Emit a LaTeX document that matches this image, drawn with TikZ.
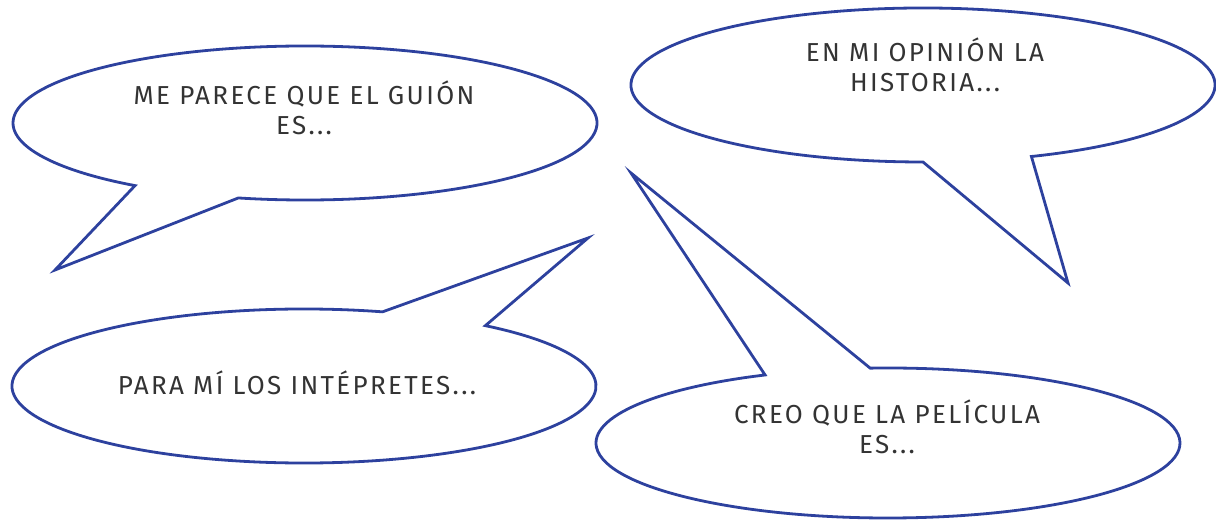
\documentclass[tikz,border=0pt]{standalone}
\usepackage{fontspec}
\setmainfont{Fira Sans}
\usetikzlibrary{calc}
\begin{document}
\begin{tikzpicture}[x=1pt,y=1pt]
 		\definecolor{bubbleblue}{RGB}{45,65,158}
 		\tikzset{bubble/.style={draw=bubbleblue,line width=2.8pt,fill=white,line join=miter},
 		  saying/.style={align=center,text=black!80,inner sep=0pt,
 		    font=\fontsize{26}{30}\selectfont\addfontfeature{LetterSpace=9}}}
 		\useasboundingbox (0,0) rectangle (1216,520);
 		
 		% Define radii of the bubbles
 		\def\rx{292}      %x radius.
 		\def\ry{77}       %y radius.
 		
 		% Define centres of the bubbles.
 		\coordinate (guion) at (305,397);
 		\coordinate (historia) at (923,435);
 		\coordinate (interpretes) at (304,134);
 		\coordinate (pelicula) at (888,77);
 		% Define tips of the tails.
 		\coordinate (tipguion) at (55,250);
 		\coordinate (tiphistoria) at (1068,237);
 		\coordinate (tipinterpretes) at (588,282);
 		\coordinate (tippelicula) at (631,347);
 		
 		% GUION
 		\draw[bubble] (tipguion) -- ($(guion)+(256.8:{\rx} and {\ry})$)
 		  arc[start angle=256.8,end angle=594.4,x radius=\rx,y radius=\ry] -- cycle;
 		% HISTORIA
 		\draw[bubble] (tiphistoria) -- ($(historia)+(291.8:{\rx} and {\ry})$)
 		  arc[start angle=291.8,end angle=630,x radius=\rx,y radius=\ry] -- cycle;
 		% INTERPRETES
 		\draw[bubble] (tipinterpretes) -- ($(interpretes)+(74.4:{\rx} and {\ry})$)
 		  arc[start angle=74.4,end angle=411.6,x radius=\rx,y radius=\ry] -- cycle;
 		% PELICULA
 		\draw[bubble] (tippelicula) -- ($(pelicula)+(93.5:{\rx} and 75)$)
 		  arc[start angle=93.5,end angle=-245.1,x radius=\rx,y radius=75] -- cycle;
 		
 		% Texts in the bubbles.
 		\node[saying] (tguion) at (304,412) {ME PARECE QUE EL GUIÓN\\ES...};
 		\node[saying] (thistoria) at (925,455) {EN MI OPINIÓN LA\\HISTORIA...};
 		\node[saying] (tinterpretes) at (297,137) {PARA MÍ LOS INTÉPRETES...};
 		\node[saying] (tpelicula) at (887,93) {CREO QUE LA PELÍCULA\\ES...};
 		\end{tikzpicture}
\end{document}
